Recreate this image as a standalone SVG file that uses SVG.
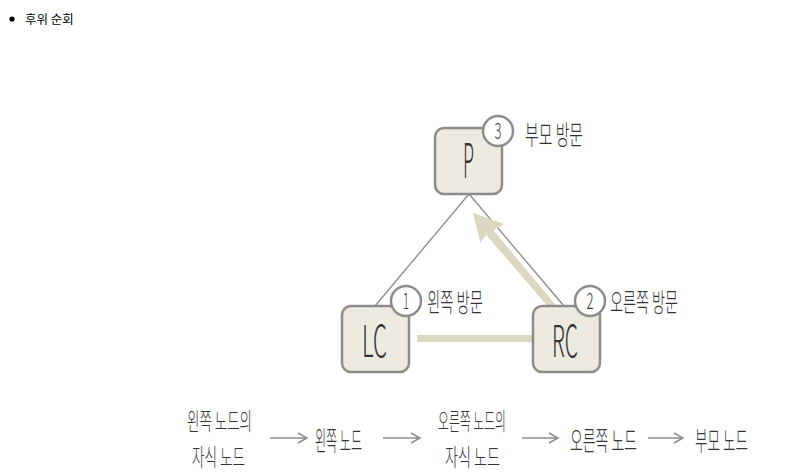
<svg xmlns="http://www.w3.org/2000/svg" width="785" height="472" viewBox="0 0 785 472">
<style>
.k{font-family:"Noto Sans CJK KR","Noto Sans",sans-serif;font-weight:300;fill:#333}
.box{fill:#edeadf;stroke:#8c8c8c;stroke-width:2.5}
.num{fill:#fff;stroke:#8c8c8c;stroke-width:2.5}
.edge{stroke:#8a8a8a;stroke-width:1.3;fill:none}
.flow{stroke:#8f8f8f;stroke-width:1.5;fill:none}
</style>
<rect width="785" height="472" fill="#fff"/>
<g id="title">
<circle cx="12" cy="19" r="2.6" fill="#000"/>
<text x="25" y="24" font-family="'Noto Sans CJK KR','Noto Sans',sans-serif" font-size="12.5" fill="#000">후위 순회</text>
</g>
<g id="connectors">
<line class="edge" x1="469" y1="194" x2="375" y2="306"/>
<line class="edge" x1="469" y1="194" x2="564" y2="306"/>
<line x1="417" y1="338.5" x2="533" y2="338.5" stroke="#dcd7c1" stroke-width="7"/>
<polygon fill="#dcd7c1" points="473,213 504,224 493.3,230.3 555,304 549.5,308.5 486.1,234.7 480.4,243"/>
<g id="flow-arrows">
<path class="flow" d="M270 438H307M298 433L307 438L298 443"/>
<path class="flow" d="M383 438H420M411 433L420 438L411 443"/>
<path class="flow" d="M522 438H558M549 433L558 438L549 443"/>
<path class="flow" d="M648 438H683M674 433L683 438L674 443"/>
</g>
</g>
<g id="node-P">
<rect class="box" x="435" y="128" width="67" height="66" rx="9"/>
<text class="k" transform="translate(463,178) scale(0.4,1)" font-size="48" textLength="27.5" lengthAdjust="spacingAndGlyphs">P</text>
<circle class="num" cx="498" cy="131" r="15"/>
<text class="k" transform="translate(498,139) scale(0.5,1)" font-size="22" text-anchor="middle" textLength="14" lengthAdjust="spacingAndGlyphs">3</text>
<text class="k" transform="translate(525,145) scale(0.5,1)" font-size="27" textLength="116" lengthAdjust="spacingAndGlyphs">부모 방문</text>
</g>
<g id="node-LC">
<rect class="box" x="342" y="306" width="67" height="66" rx="9"/>
<text class="k" transform="translate(362,357) scale(0.4,1)" font-size="44" textLength="62.5" lengthAdjust="spacingAndGlyphs">LC</text>
<circle class="num" cx="406" cy="301" r="15"/>
<text class="k" transform="translate(406,309) scale(0.5,1)" font-size="22" text-anchor="middle" textLength="12" lengthAdjust="spacingAndGlyphs">1</text>
<text class="k" transform="translate(427,312) scale(0.5,1)" font-size="26" textLength="112" lengthAdjust="spacingAndGlyphs">왼쪽 방문</text>
</g>
<g id="node-RC">
<rect class="box" x="533" y="306" width="67" height="66" rx="9"/>
<text class="k" transform="translate(552,357) scale(0.4,1)" font-size="44" textLength="65" lengthAdjust="spacingAndGlyphs">RC</text>
<circle class="num" cx="590" cy="301" r="15"/>
<text class="k" transform="translate(590,309) scale(0.5,1)" font-size="22" text-anchor="middle" textLength="14" lengthAdjust="spacingAndGlyphs">2</text>
<text class="k" transform="translate(610,312) scale(0.5,1)" font-size="26" textLength="136" lengthAdjust="spacingAndGlyphs">오른쪽 방문</text>
</g>
<g id="seq-1">
<text class="k" transform="translate(187,430) scale(0.5,1)" font-size="24" textLength="130" lengthAdjust="spacingAndGlyphs">왼쪽 노드의</text>
<text class="k" transform="translate(192,466) scale(0.5,1)" font-size="24" textLength="106" lengthAdjust="spacingAndGlyphs">자식 노드</text>
</g>
<g id="seq-2">
<text class="k" transform="translate(315,451) scale(0.5,1)" font-size="27" textLength="94" lengthAdjust="spacingAndGlyphs">왼쪽 노드</text>
</g>
<g id="seq-3">
<text class="k" transform="translate(438,430) scale(0.5,1)" font-size="24" textLength="136" lengthAdjust="spacingAndGlyphs">오른쪽 노드의</text>
<text class="k" transform="translate(445,466) scale(0.5,1)" font-size="24" textLength="110" lengthAdjust="spacingAndGlyphs">자식 노드</text>
</g>
<g id="seq-4">
<text class="k" transform="translate(570,451) scale(0.5,1)" font-size="27" textLength="134" lengthAdjust="spacingAndGlyphs">오른쪽 노드</text>
</g>
<g id="seq-5">
<text class="k" transform="translate(695,451) scale(0.5,1)" font-size="27" textLength="106" lengthAdjust="spacingAndGlyphs">부모 노드</text>
</g>
</svg>
